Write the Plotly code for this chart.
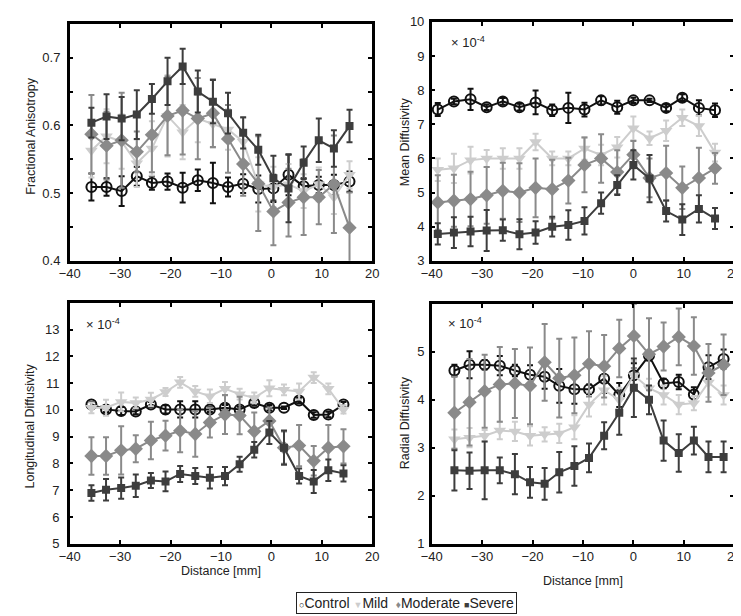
import plotly.graph_objects as go

# ---------------- data ----------------
groups = ["Control", "Mild", "Moderate", "Severe"]

fa_x = [-35.7, -32.7, -29.7, -26.7, -23.7, -20.6, -17.6, -14.6, -11.6, -8.6, -5.6, -2.6, 0.4, 3.4, 6.4, 9.4, 12.4, 15.5]
fa_control = [0.509, 0.509, 0.503, 0.525, 0.515, 0.517, 0.508, 0.519, 0.515, 0.509, 0.514, 0.506, 0.507, 0.527, 0.510, 0.512, 0.512, 0.517]
fa_control_err = [0.02, 0.013, 0.022, 0.014, 0.01, 0.012, 0.022, 0.016, 0.03, 0.014, 0.014, 0.02, 0.02, 0.03, 0.012, 0.012, 0.015, 0.015]
fa_mild = [0.563, 0.584, 0.576, 0.544, 0.566, 0.614, 0.590, 0.610, 0.602, 0.594, 0.576, 0.513, 0.509, 0.513, 0.503, 0.513, 0.494, 0.527]
fa_mild_err = [0.04, 0.04, 0.04, 0.035, 0.04, 0.06, 0.04, 0.035, 0.035, 0.03, 0.035, 0.04, 0.03, 0.03, 0.025, 0.025, 0.025, 0.02]
fa_moderate = [0.587, 0.570, 0.578, 0.561, 0.586, 0.614, 0.622, 0.610, 0.618, 0.580, 0.543, 0.514, 0.473, 0.486, 0.494, 0.494, 0.513, 0.449]
fa_moderate_err = [0.058, 0.05, 0.07, 0.03, 0.055, 0.058, 0.065, 0.06, 0.05, 0.05, 0.047, 0.07, 0.05, 0.05, 0.056, 0.04, 0.072, 0.052]
fa_severe = [0.604, 0.613, 0.610, 0.616, 0.639, 0.665, 0.687, 0.650, 0.635, 0.618, 0.589, 0.564, 0.522, 0.507, 0.545, 0.578, 0.566, 0.599]
fa_severe_err = [0.022, 0.033, 0.032, 0.036, 0.022, 0.035, 0.026, 0.031, 0.032, 0.03, 0.023, 0.022, 0.033, 0.05, 0.024, 0.032, 0.027, 0.024]

md_x = [-38.8, -35.6, -32.3, -29.1, -25.9, -22.6, -19.4, -16.1, -12.9, -9.7, -6.4, -3.2, 0.0, 3.2, 6.5, 9.7, 13.0, 16.2]
md_control = [7.43, 7.67, 7.73, 7.50, 7.67, 7.50, 7.64, 7.41, 7.48, 7.43, 7.70, 7.50, 7.70, 7.70, 7.48, 7.78, 7.48, 7.41]
md_control_err = [0.19, 0.08, 0.31, 0.08, 0.1, 0.1, 0.35, 0.17, 0.44, 0.2, 0.12, 0.19, 0.08, 0.05, 0.1, 0.1, 0.22, 0.2]
md_mild = [5.67, 5.71, 5.95, 6.0, 6.0, 6.0, 6.48, 6.0, 6.0, 6.29, 6.1, 6.33, 6.88, 6.59, 6.81, 7.19, 6.95, 6.17]
md_mild_err = [0.33, 0.43, 0.39, 0.25, 0.3, 0.3, 0.24, 0.2, 0.2, 0.33, 0.3, 0.3, 0.35, 0.2, 0.3, 0.24, 0.29, 0.26]
md_moderate = [4.71, 4.76, 4.81, 4.92, 5.05, 5.0, 5.14, 5.1, 5.35, 5.81, 6.0, 5.6, 6.11, 5.43, 5.57, 5.14, 5.43, 5.71]
md_moderate_err = [0.8, 0.76, 0.8, 0.83, 0.82, 0.86, 0.86, 0.86, 0.67, 0.8, 0.71, 0.64, 0.4, 0.57, 0.8, 0.62, 0.88, 0.45]
md_severe = [3.79, 3.83, 3.86, 3.89, 3.9, 3.78, 3.83, 4.0, 4.05, 4.17, 4.69, 5.22, 5.81, 5.41, 4.46, 4.21, 4.52, 4.24]
md_severe_err = [0.31, 0.45, 0.43, 0.6, 0.31, 0.44, 0.33, 0.29, 0.43, 0.4, 0.31, 0.29, 0.43, 0.69, 0.31, 0.45, 0.4, 0.31]

ld_x = [-35.7, -32.8, -29.8, -26.9, -23.9, -21.0, -18.1, -15.1, -12.2, -9.2, -6.3, -3.4, -0.4, 2.5, 5.5, 8.4, 11.3, 14.3]
ld_control = [10.2, 10.02, 9.96, 9.94, 10.2, 10.02, 10.02, 10.02, 10.02, 10.08, 10.02, 10.26, 10.08, 10.08, 10.35, 9.81, 9.83, 10.2]
ld_control_err = [0.1, 0.1, 0.15, 0.1, 0.1, 0.15, 0.3, 0.3, 0.1, 0.1, 0.1, 0.1, 0.1, 0.05, 0.1, 0.1, 0.1, 0.1]
ld_mild = [10.08, 10.08, 10.3, 10.26, 10.39, 10.67, 11.03, 10.69, 10.51, 10.79, 10.59, 10.45, 10.81, 10.75, 10.69, 11.21, 10.79, 10.02]
ld_mild_err = [0.2, 0.3, 0.35, 0.2, 0.25, 0.15, 0.2, 0.2, 0.25, 0.25, 0.2, 0.2, 0.3, 0.2, 0.3, 0.2, 0.2, 0.15]
ld_moderate = [8.28, 8.28, 8.49, 8.55, 8.86, 9.04, 9.22, 9.1, 9.53, 9.83, 9.79, 9.2, 9.59, 8.59, 8.67, 8.1, 8.59, 8.64]
ld_moderate_err = [0.7, 0.7, 0.9, 0.5, 0.7, 0.56, 0.8, 0.85, 0.56, 0.73, 0.7, 0.7, 0.5, 0.6, 0.77, 0.55, 0.85, 0.64]
ld_severe = [6.9, 7.02, 7.08, 7.17, 7.36, 7.33, 7.61, 7.53, 7.47, 7.53, 7.97, 8.51, 9.16, 8.59, 7.53, 7.33, 7.75, 7.63]
ld_severe_err = [0.29, 0.4, 0.4, 0.42, 0.28, 0.37, 0.3, 0.3, 0.4, 0.34, 0.28, 0.29, 0.43, 0.64, 0.28, 0.43, 0.4, 0.3]

rd_x = [-35.5, -32.5, -29.5, -26.5, -23.5, -20.5, -17.6, -14.7, -11.7, -8.8, -5.8, -2.8, 0.1, 3.1, 6.0, 9.0, 12.0, 14.9, 17.9]
rd_control = [4.61, 4.73, 4.73, 4.71, 4.61, 4.52, 4.48, 4.29, 4.22, 4.22, 4.44, 4.10, 4.51, 4.92, 4.34, 4.37, 4.11, 4.68, 4.85]
rd_control_err = [0.12, 0.28, 0.1, 0.2, 0.12, 0.2, 0.25, 0.35, 0.3, 0.1, 0.3, 0.25, 0.25, 0.1, 0.1, 0.15, 0.15, 0.25, 0.2]
rd_mild = [3.18, 3.21, 3.25, 3.36, 3.34, 3.25, 3.28, 3.30, 3.43, 3.90, 4.20, 4.00, 4.51, 4.24, 4.10, 3.90, 3.93, 4.36, 4.10]
rd_mild_err = [0.2, 0.2, 0.12, 0.18, 0.2, 0.2, 0.15, 0.2, 0.25, 0.25, 0.3, 0.25, 0.3, 0.2, 0.2, 0.2, 0.15, 0.3, 0.2]
rd_moderate = [3.73, 3.95, 4.18, 4.32, 4.34, 4.29, 4.78, 4.45, 4.51, 4.75, 4.70, 5.07, 5.33, 4.95, 5.11, 5.31, 5.12, 4.56, 4.73]
rd_moderate_err = [0.75, 0.9, 0.76, 0.78, 0.72, 0.8, 0.8, 0.82, 0.79, 0.68, 0.65, 0.6, 0.67, 0.75, 0.5, 0.59, 0.6, 0.6, 0.63]
rd_severe = [2.53, 2.52, 2.53, 2.53, 2.45, 2.28, 2.25, 2.49, 2.62, 2.79, 3.25, 3.73, 4.25, 4.00, 3.15, 2.89, 3.15, 2.81, 2.81]
rd_severe_err = [0.42, 0.38, 0.6, 0.27, 0.42, 0.32, 0.33, 0.42, 0.41, 0.3, 0.28, 0.46, 0.61, 0.3, 0.42, 0.39, 0.29, 0.32, 0.32]

fa_ticks = [0.4, 0.45, 0.5, 0.55, 0.6, 0.65, 0.7, 0.75]
fa_ticktext = ["0.4", "", "0.5", "", "0.6", "", "0.7", ""]
md_ticks = [3, 4, 5, 6, 7, 8, 9, 10]
ld_ticks = [5, 6, 7, 8, 9, 10, 11, 12, 13, 14]
ld_ticktext = ["5", "6", "7", "8", "9", "10", "11", "12", "13", ""]
rd_ticks = [1, 2, 3, 4, 5, 6]
rd_ticktext = ["1", "2", "3", "4", "5", ""]
x_ticks = [-40, -30, -20, -10, 0, 10, 20]

# ---------------- styling ----------------
W, H = 741, 616
FONT = "Liberation Sans, Arial, sans-serif"
colors = {"Control": "#111111", "Mild": "#cdcdcd", "Moderate": "#8a8a8a", "Severe": "#3d3d3d"}
symbols = {"Control": "circle-open", "Mild": "triangle-down", "Moderate": "diamond", "Severe": "square"}
msize = {"Control": 10, "Mild": 11, "Moderate": 11, "Severe": 8}

panels = [
    (fa_x, [fa_control, fa_mild, fa_moderate, fa_severe],
     [fa_control_err, fa_mild_err, fa_moderate_err, fa_severe_err]),
    (md_x, [md_control, md_mild, md_moderate, md_severe],
     [md_control_err, md_mild_err, md_moderate_err, md_severe_err]),
    (ld_x, [ld_control, ld_mild, ld_moderate, ld_severe],
     [ld_control_err, ld_mild_err, ld_moderate_err, ld_severe_err]),
    (rd_x, [rd_control, rd_mild, rd_moderate, rd_severe],
     [rd_control_err, rd_mild_err, rd_moderate_err, rd_severe_err]),
]

# pixel boxes (left, right, top, bottom)
boxes = [(52, 362, 9, 252), (423, 733, 7, 252), (52, 362, 295, 542), (423, 733, 296, 542)]
ystandoff = [4, 2, 5, 2]

fig = go.Figure()
for pi, (xs, ys_list, errs) in enumerate(panels):
    suffix = "" if pi == 0 else str(pi + 1)
    for g, ys, es in zip(groups, ys_list, errs):
        c = colors[g]
        fig.add_trace(go.Scatter(
            x=xs, y=ys, mode="lines+markers", name=g, showlegend=False,
            xaxis="x" + suffix, yaxis="y" + suffix,
            line=dict(color=c, width=2),
            marker=dict(symbol=symbols[g], size=msize[g], color=c,
                        line=dict(color=c, width=2 if g == "Control" else 0)),
            error_y=dict(type="data", array=es, visible=True, color=c, thickness=2, width=3),
        ))

def px2fx(px):
    return px / W

def py2fy(py):
    return 1 - py / H

axis_common = dict(showline=True, linecolor="black", linewidth=2.5, mirror="ticks",
                   ticks="inside", ticklen=4, tickwidth=2, tickcolor="black",
                   showgrid=False, zeroline=False, ticklabeloverflow="allow",
                   tickfont=dict(family=FONT, size=13, color="#222222"))

yspec = [
    dict(range=[0.4, 0.75], tickvals=fa_ticks, ticktext=fa_ticktext),
    dict(range=[3, 10], tickvals=md_ticks),
    dict(range=[5, 14], tickvals=ld_ticks, ticktext=ld_ticktext),
    dict(range=[1, 6], tickvals=rd_ticks, ticktext=rd_ticktext),
]

layout = dict(width=W, height=H, margin=dict(l=0, r=0, t=0, b=0),
              paper_bgcolor="white", plot_bgcolor="white",
              font=dict(family=FONT, size=13, color="#222222"))
for pi, (l, r, t, b) in enumerate(boxes):
    suffix = "" if pi == 0 else str(pi + 1)
    layout["xaxis" + suffix] = dict(domain=[px2fx(l), px2fx(r)], range=[-40, 20], tickvals=x_ticks,
                                    anchor="y" + suffix, ticklabelstandoff=-1, **axis_common)
    layout["yaxis" + suffix] = dict(domain=[py2fy(b), py2fy(t)], anchor="x" + suffix,
                                    ticklabelstandoff=ystandoff[pi], **yspec[pi], **axis_common)
fig.update_layout(**layout)

ann = []
def add_text(text, x, y, size=12.5, angle=0, **kw):
    ann.append(dict(text=text, x=px2fx(x), y=py2fy(y), xref="paper", yref="paper",
                    showarrow=False, textangle=angle, xanchor="center", yanchor="middle",
                    font=dict(family=FONT, size=size, color="#222222"), **kw))

add_text("Fractional Anisotropy", 12, 124, angle=-90)
add_text("Mean Diffusivity", 395, 130, angle=-90)
add_text("Longitudinal Diffusivity", 11, 421, angle=-90)
add_text("Radial Diffusivity", 395, 418, angle=-90)
add_text("Distance [mm]", 207, 570)
add_text("Distance [mm]", 578, 580)
add_text("× 10<sup>-4</sup>", 460, 28, size=13)
add_text("× 10<sup>-4</sup>", 86, 317, size=13)
add_text("× 10<sup>-4</sup>", 457, 316, size=13)

legend_text = ('<span style="color:#111111;font-size:9px">○</span>Control '
               '<span style="color:#cdcdcd;font-size:9px">▼</span>Mild  '
               '<span style="color:#8a8a8a;font-size:10px">♦</span>Moderate '
               '<span style="color:#3d3d3d;font-size:9px">■</span>Severe')
ann.append(dict(text=legend_text, x=px2fx(397.5), y=py2fy(602.5), xref="paper", yref="paper",
                showarrow=False, xanchor="center", yanchor="middle",
                font=dict(family=FONT, size=14, color="#222222"),
                bordercolor="#222222", borderwidth=1, borderpad=2, bgcolor="white"))
fig.update_layout(annotations=ann)

fig.write_html("out.html")
